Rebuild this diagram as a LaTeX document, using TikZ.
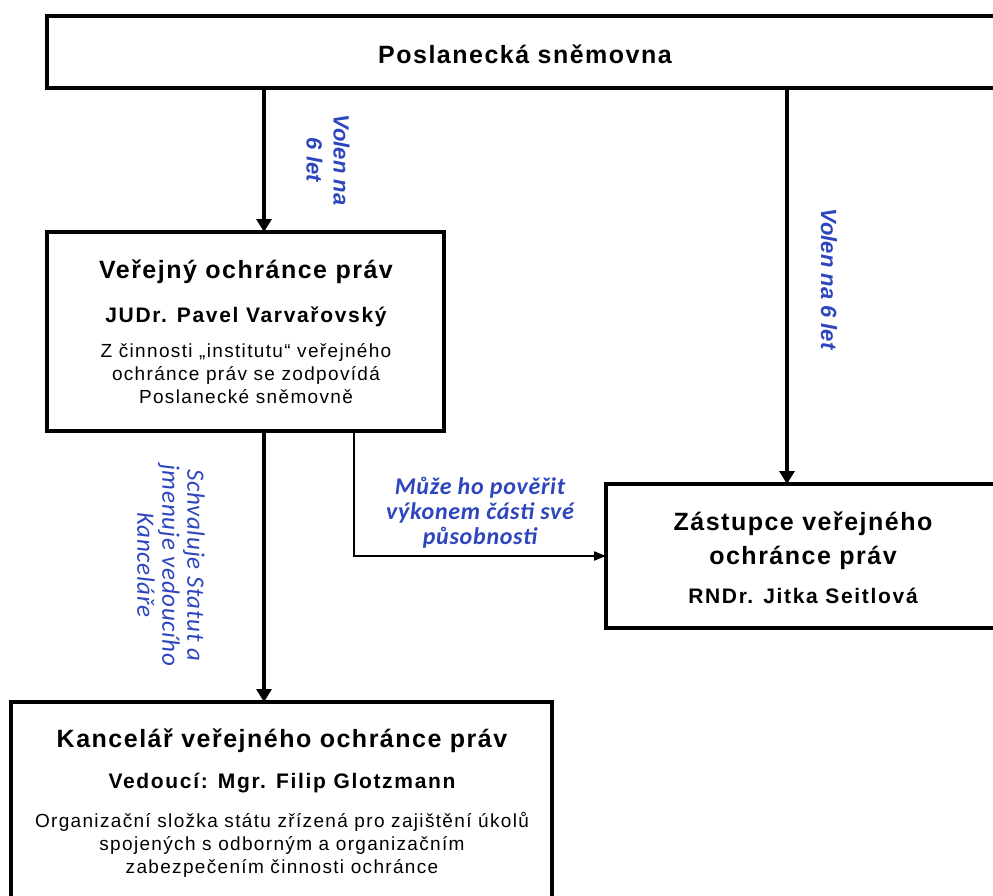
\documentclass[tikz,border=0pt]{standalone}
\usepackage{fontspec}
\setmainfont{Liberation Sans}
\newfontfamily\ttlfont[LetterSpace=6]{Liberation Sans}
\newfontfamily\subfont[LetterSpace=8]{Liberation Sans}
\newfontfamily\bodyfont[LetterSpace=7]{Liberation Sans}
\newfontfamily\volfont{Liberation Sans}
\newfontfamily\calfont[LetterSpace=3]{Carlito}
\usetikzlibrary{arrows.meta}
\definecolor{lblblue}{RGB}{45,70,190}
\begin{document}
\begin{tikzpicture}[x=1pt,y=-1pt,
  box/.style={draw=black, line width=3.5pt, fill=white, inner sep=0pt, outer sep=0pt},
  ttl/.style={anchor=base, inner sep=0pt, font=\fontsize{25}{30}\selectfont\ttlfont\bfseries},
  sub/.style={anchor=base, inner sep=0pt, font=\fontsize{21}{24}\selectfont\subfont\bfseries},
  bdy/.style={anchor=base, inner sep=0pt, font=\fontsize{19}{22}\selectfont\bodyfont},
  vol/.style={inner sep=0pt, text=lblblue, align=center, font=\fontsize{22}{27}\selectfont\volfont\bfseries\itshape},
  calb/.style={inner sep=0pt, text=lblblue, align=center, font=\fontsize{24}{25}\selectfont\calfont\bfseries\itshape},
  cali/.style={inner sep=0pt, text=lblblue, align=center, font=\fontsize{25}{25}\selectfont\calfont\itshape},
  mainarrow/.style={line width=4.5pt, -{Triangle[length=13pt,width=15pt]}},
  thinarrow/.style={line width=2pt, -{Triangle[length=12pt,width=9pt]}}
]
\fill[white] (0,0) rectangle (993,895);
\useasboundingbox (0,0) rectangle (993,895);

% boxes
\node[box, minimum width=956pt, minimum height=72pt] (ps) at (525,52) {};
\node[box, minimum width=397pt, minimum height=199pt] (ver) at (245.5,331.5) {};
\node[box, minimum width=394pt, minimum height=144pt] (zas) at (803,556) {};
\node[box, minimum width=541pt, minimum height=208pt] (kan) at (281.5,806) {};

% box texts
\node[ttl] (t0) at (525,63) {Poslanecká sněmovna};

\node[ttl] (v1) at (246,278) {Veřejný ochránce práv};
\node[sub] (v2) at (246,322) {JUDr. Pavel Varvařovský};
\node[bdy] (v3) at (246,357) {Z činnosti „institutu“ veřejného};
\node[bdy] (v4) at (246,380) {ochránce práv se zodpovídá};
\node[bdy] (v5) at (246,403) {Poslanecké sněmovně};

\node[ttl] (z1) at (803,530) {Zástupce veřejného};
\node[ttl] (z2) at (803,564) {ochránce práv};
\node[sub] (z3) at (803,603) {RNDr. Jitka Seitlová};

\node[ttl] (k1) at (282,747) {Kancelář veřejného ochránce práv};
\node[sub] (k2) at (282,788) {Vedoucí: Mgr. Filip Glotzmann};
\node[bdy] (k3) at (282,827) {Organizační složka státu zřízená pro zajištění úkolů};
\node[bdy] (k4) at (282,850) {spojených s odborným a organizačním};
\node[bdy] (k5) at (282,873) {zabezpečením činnosti ochránce};

% connectors
\coordinate (xL) at (264,0);
\coordinate (xR) at (787,0);
\coordinate (xM) at (354,0);
\draw[mainarrow] (ps.south -| xL) -- (ver.north -| xL);
\draw[mainarrow] (ps.south -| xR) -- (zas.north -| xR);
\draw[mainarrow] (ver.south -| xL) -- (kan.north -| xL);
\draw[thinarrow] (ver.south -| xM) |- (zas.west);

% labels
\node[vol, rotate=-90] (l1) at (328,160) {Volen na\\6 let};
\node[vol, rotate=-90] (l2) at (829,279) {Volen na 6 let};
\node[cali, rotate=-90] (l3) at (171,565) {Schvaluje Statut a\\jmenuje vedoucího\\Kanceláře};
\node[calb] (l4) at (480,513) {Může ho pověřit\\výkonem části své\\působnosti};
\end{tikzpicture}
\end{document}
